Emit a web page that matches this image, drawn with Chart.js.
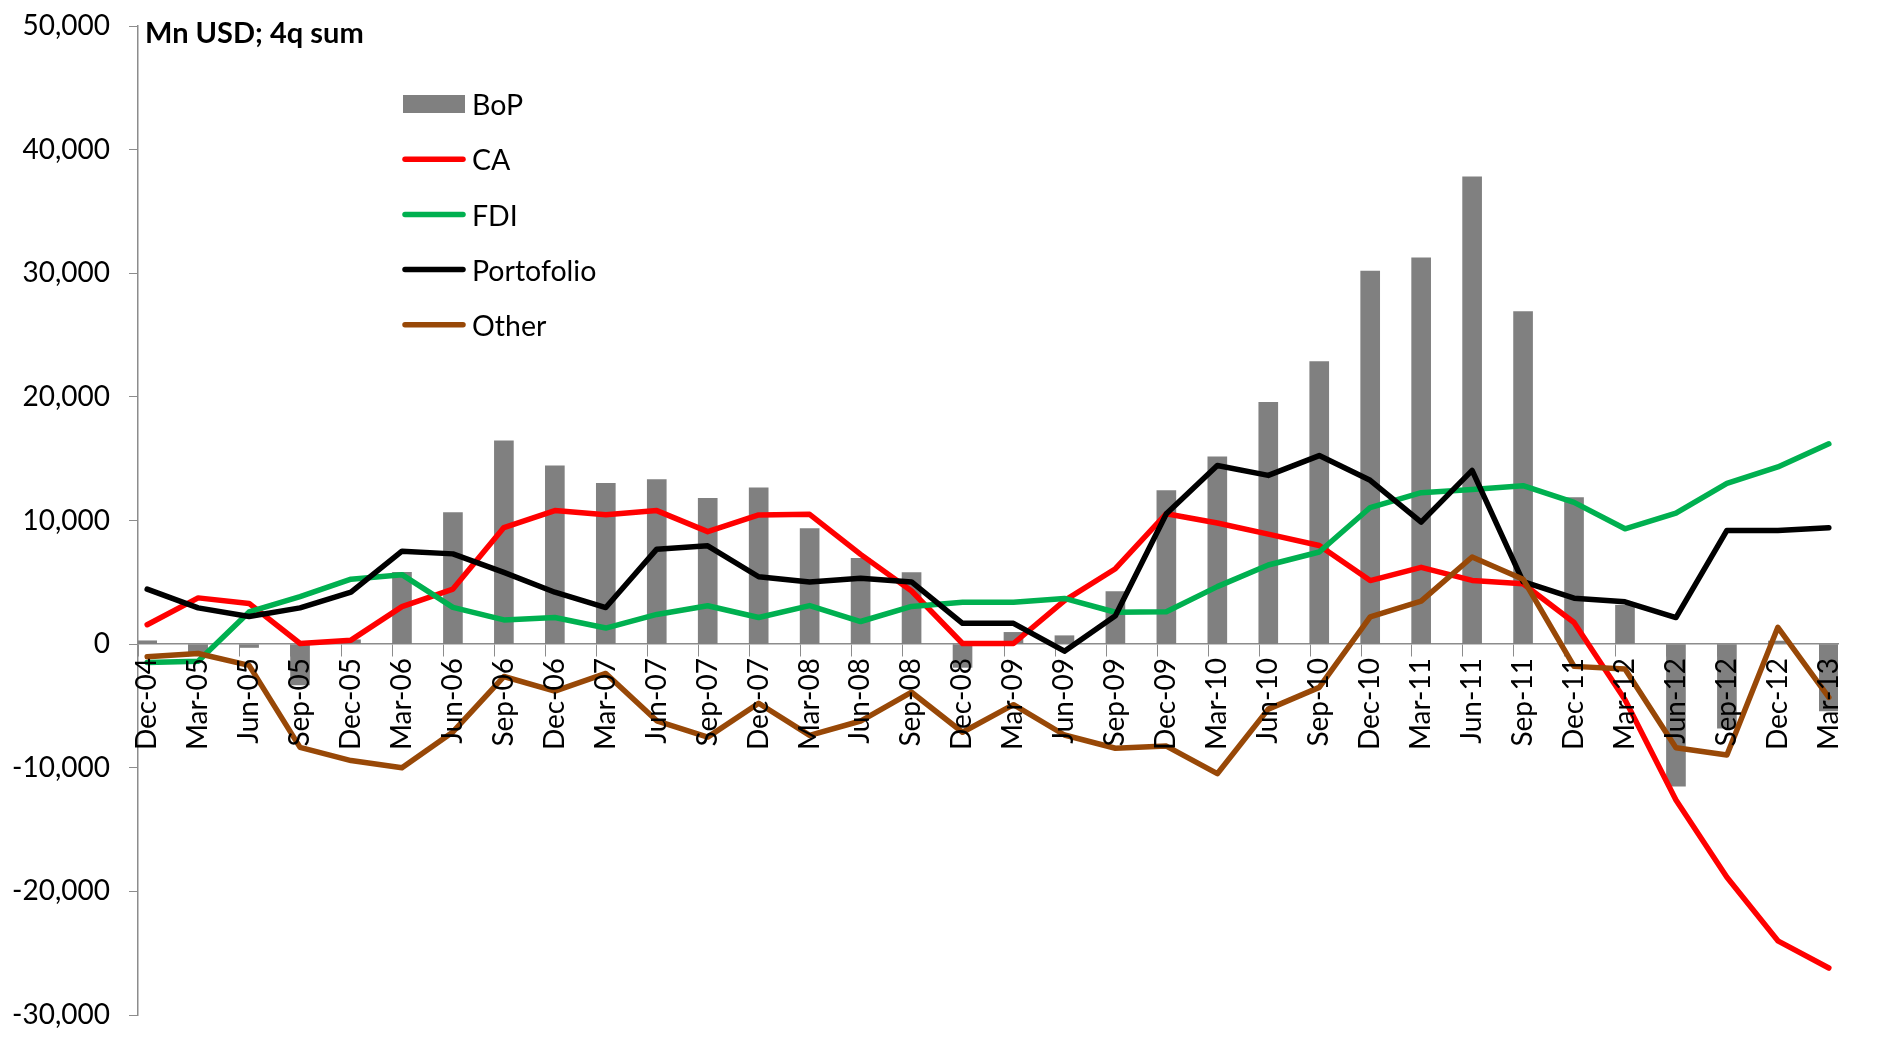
<!DOCTYPE html>
<html>
<head>
<meta charset="utf-8">
<title>Balance of payments</title>
<script src="https://cdn.jsdelivr.net/npm/chart.js@4.4.1/dist/chart.umd.min.js"></script>
<style>
  html, body { margin: 0; padding: 0; background: #fff; }
  canvas { display: block; }
</style>
</head>
<body>
<canvas id="myChart" width="1882" height="1051"></canvas>
<script>
'use strict';

const quarters = [
  'Dec-04', 'Mar-05', 'Jun-05', 'Sep-05', 'Dec-05', 'Mar-06', 'Jun-06', 'Sep-06',
  'Dec-06', 'Mar-07', 'Jun-07', 'Sep-07', 'Dec-07', 'Mar-08', 'Jun-08', 'Sep-08',
  'Dec-08', 'Mar-09', 'Jun-09', 'Sep-09', 'Dec-09', 'Mar-10', 'Jun-10', 'Sep-10',
  'Dec-10', 'Mar-11', 'Jun-11', 'Sep-11', 'Dec-11', 'Mar-12', 'Jun-12', 'Sep-12',
  'Dec-12', 'Mar-13'
];

// Mn USD, 4-quarter rolling sums
const bop = [
  270, -670, -270, -3300, 350, 5800, 10650, 16450, 14430, 13000, 13300, 11800,
  12650, 9350, 6950, 5780, -1880, 950, 680, 4250, 12420, 15150, 19550, 22850,
  30180, 31250, 37800, 26900, 11850, 3150, -11500, -6800, 250, -5400
];
const ca = [
  1570, 3740, 3290, 50, 320, 3030, 4450, 9430, 10800, 10470, 10800, 9100,
  10450, 10500, 7260, 4300, 50, 50, 3520, 6100, 10550, 9800, 8900, 7980,
  5140, 6210, 5150, 4880, 1750, -4500, -12600, -18850, -24000, -26200
];
const fdi = [
  -1480, -1380, 2600, 3850, 5250, 5620, 2970, 1960, 2150, 1300, 2400, 3100,
  2150, 3120, 1830, 3050, 3380, 3380, 3700, 2580, 2620, 4650, 6400, 7450,
  11050, 12250, 12500, 12820, 11470, 9330, 10600, 13000, 14330, 16200
];
const portfolio = [
  4450, 2930, 2230, 2930, 4200, 7520, 7300, 5800, 4200, 2960, 7680, 7950,
  5450, 5030, 5330, 5030, 1680, 1680, -570, 2300, 10550, 14450, 13650, 15250,
  13250, 9870, 14050, 5050, 3720, 3420, 2150, 9200, 9200, 9420
];
const other = [
  -1020, -760, -1720, -8350, -9420, -10000, -7100, -2620, -3800, -2370, -6200, -7520,
  -4780, -7380, -6220, -3890, -7130, -4900, -7350, -8420, -8250, -10480, -5260, -3500,
  2200, 3480, 7050, 5250, -1800, -2020, -8380, -8970, 1360, -4300
];

const yTicks = [-30000, -20000, -10000, 0, 10000, 20000, 30000, 40000, 50000];
const unitLabel = 'Mn USD; 4q sum';

// tick marks sit at the left edge of each bar
const tickShift = 0.18;

function points(values) {
  return values.map((v, i) => ({ x: i, y: v }));
}

function lineSet(label, color, values, order) {
  return {
    type: 'line',
    label: label,
    data: points(values),
    borderColor: color,
    backgroundColor: color,
    borderWidth: 5.5,
    borderJoinStyle: 'round',
    borderCapStyle: 'round',
    pointRadius: 0,
    tension: 0,
    order: order
  };
}

// keep the plot box fixed, no extra room for label overhang
function noPadding(scale) {
  scale.paddingTop = 0;
  scale.paddingBottom = 0;
  scale.paddingLeft = 0;
  scale.paddingRight = 0;
}

// title and legend float inside the plot
const overlay = {
  id: 'overlay',
  afterDraw(chart) {
    const ctx = chart.ctx;
    ctx.save();
    ctx.fillStyle = '#000';
    ctx.font = 'bold 29px Lato';
    ctx.textBaseline = 'alphabetic';
    ctx.fillText(unitLabel, 145, 43);

    ctx.font = '28.5px Lato';
    ctx.textBaseline = 'middle';
    chart.data.datasets.forEach((ds, i) => {
      const y = 104 + i * 55.2;
      if (ds.type === 'bar') {
        ctx.fillStyle = ds.backgroundColor;
        ctx.fillRect(403, y - 9, 62, 18);
      } else {
        ctx.strokeStyle = ds.borderColor;
        ctx.lineWidth = 5.5;
        ctx.lineCap = 'round';
        ctx.beginPath();
        ctx.moveTo(405, y);
        ctx.lineTo(463, y);
        ctx.stroke();
      }
      ctx.fillStyle = '#000';
      ctx.fillText(ds.label, 472, y + 2);
    });
    ctx.restore();
  }
};

function createChart() {
  const ctx = document.getElementById('myChart').getContext('2d');
  Chart.defaults.font.family = 'Lato';
  Chart.defaults.color = '#000';

  new Chart(ctx, {
    type: 'line',
    data: {
      datasets: [
        {
          type: 'bar',
          label: 'BoP',
          data: points(bop),
          backgroundColor: '#808080',
          borderWidth: 0,
          barThickness: 19,
          order: 5
        },
        lineSet('CA', '#ff0000', ca, 4),
        lineSet('FDI', '#00b050', fdi, 3),
        lineSet('Portofolio', '#000000', portfolio, 2),
        lineSet('Other', '#984807', other, 1)
      ]
    },
    options: {
      responsive: false,
      animation: false,
      devicePixelRatio: 1,
      layout: { padding: { left: 0, right: 44, top: 26, bottom: 36 } },
      plugins: {
        legend: { display: false },
        tooltip: { enabled: false }
      },
      scales: {
        x: {
          type: 'linear',
          position: { y: 0 },
          min: -tickShift,
          max: quarters.length - 1 + tickShift,
          offset: false,
          afterFit: noPadding,
          afterBuildTicks(scale) {
            scale.ticks = quarters.map((q, i) => ({ value: i - tickShift }));
          },
          grid: { drawOnChartArea: false, drawTicks: true, tickLength: 12, color: '#8c8c8c', offset: false },
          border: { display: true, color: '#8c8c8c', width: 1.5 },
          ticks: {
            z: 1,
            autoSkip: false,
            maxRotation: 90,
            minRotation: 90,
            padding: 2,
            labelOffset: 9,
            font: { size: 28 },
            color: '#000',
            callback: (value) => quarters[Math.round(value + tickShift)]
          }
        },
        y: {
          min: yTicks[0],
          max: yTicks[yTicks.length - 1],
          afterFit(scale) {
            scale.width = 138;
            noPadding(scale);
          },
          afterBuildTicks(scale) {
            scale.ticks = yTicks.map(v => ({ value: v }));
          },
          grid: { drawOnChartArea: false, drawTicks: true, tickLength: 9, color: '#8c8c8c' },
          border: { display: true, color: '#8c8c8c', width: 1.5 },
          ticks: {
            padding: 19,
            font: { size: 28 },
            color: '#000',
            callback: (value) => value.toLocaleString('en-US')
          }
        }
      }
    },
    plugins: [overlay]
  });
}

Promise.all([
  document.fonts.load('28px Lato'),
  document.fonts.load('bold 29px Lato')
]).catch(() => {}).then(createChart);
</script>
</body>
</html>
